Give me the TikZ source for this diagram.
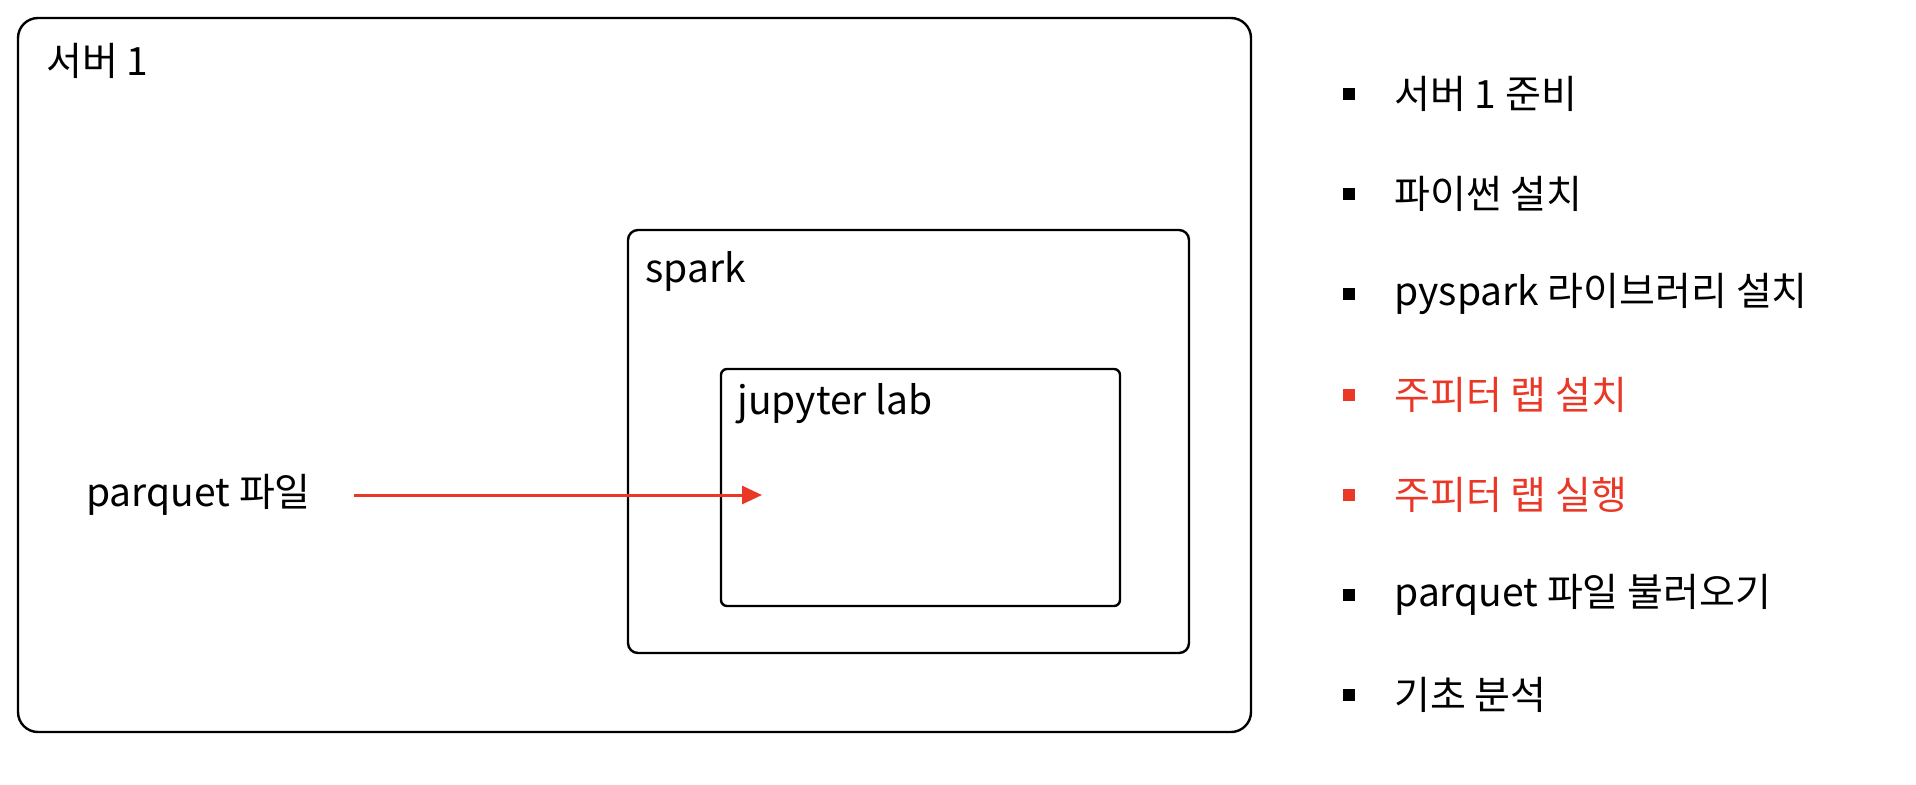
\documentclass[tikz,border=0pt]{standalone}
\usepackage{fontspec}
\setmainfont{Noto Sans CJK KR}
\usetikzlibrary{arrows.meta}
\definecolor{hred}{RGB}{234,56,38}
\begin{document}
\begin{tikzpicture}[x=0.5pt,y=-0.5pt,
  frame/.style={draw=black,line width=1.2pt,inner sep=0pt,outer sep=0pt,anchor=north west},
  lbl/.style={font=\fontsize{19.5pt}{23pt}\selectfont,inner sep=0pt,anchor=west},
  bul/.style={fill=#1,minimum size=6pt,inner sep=0pt},
  flow/.style={draw=hred,line width=1.5pt,-{Triangle[length=10pt,width=9pt]}}]
\useasboundingbox (0,0) rectangle (1916,784);
\node[frame,rounded corners=10pt,minimum width=616.5pt,minimum height=357pt] (outer) at (18,18) {};
\node[frame,rounded corners=5pt,minimum width=280.5pt,minimum height=211.5pt] (spark) at (628,230) {};
\node[frame,rounded corners=3pt,minimum width=199.5pt,minimum height=118.5pt] (jup) at (721,369) {};
\node[lbl] (t1) at (46,61) {서버 1};
\node[lbl] (t2) at (645,271) {spark};
\node[lbl] (t3) at (737,404) {jupyter lab};
\node[lbl] (pq) at (86,495) {parquet 파일};
\coordinate (astart) at (354,495);
\coordinate (aend) at (762,495);
\draw[flow] (astart) -- (aend);
\foreach \i/\txt/\c in {0/서버 1 준비/black,1/파이썬 설치/black,2/pyspark 라이브러리 설치/black,3/주피터 랩 설치/hred,4/주피터 랩 실행/hred,5/parquet 파일 불러오기/black,6/기초 분석/black}{
  \node[bul=\c] (b\i) at (1349,{94+100.2*\i}) {};
  \node[lbl,text=\c] (s\i) at (1394,{94+100.2*\i}) {\txt};
}
\end{tikzpicture}
\end{document}
